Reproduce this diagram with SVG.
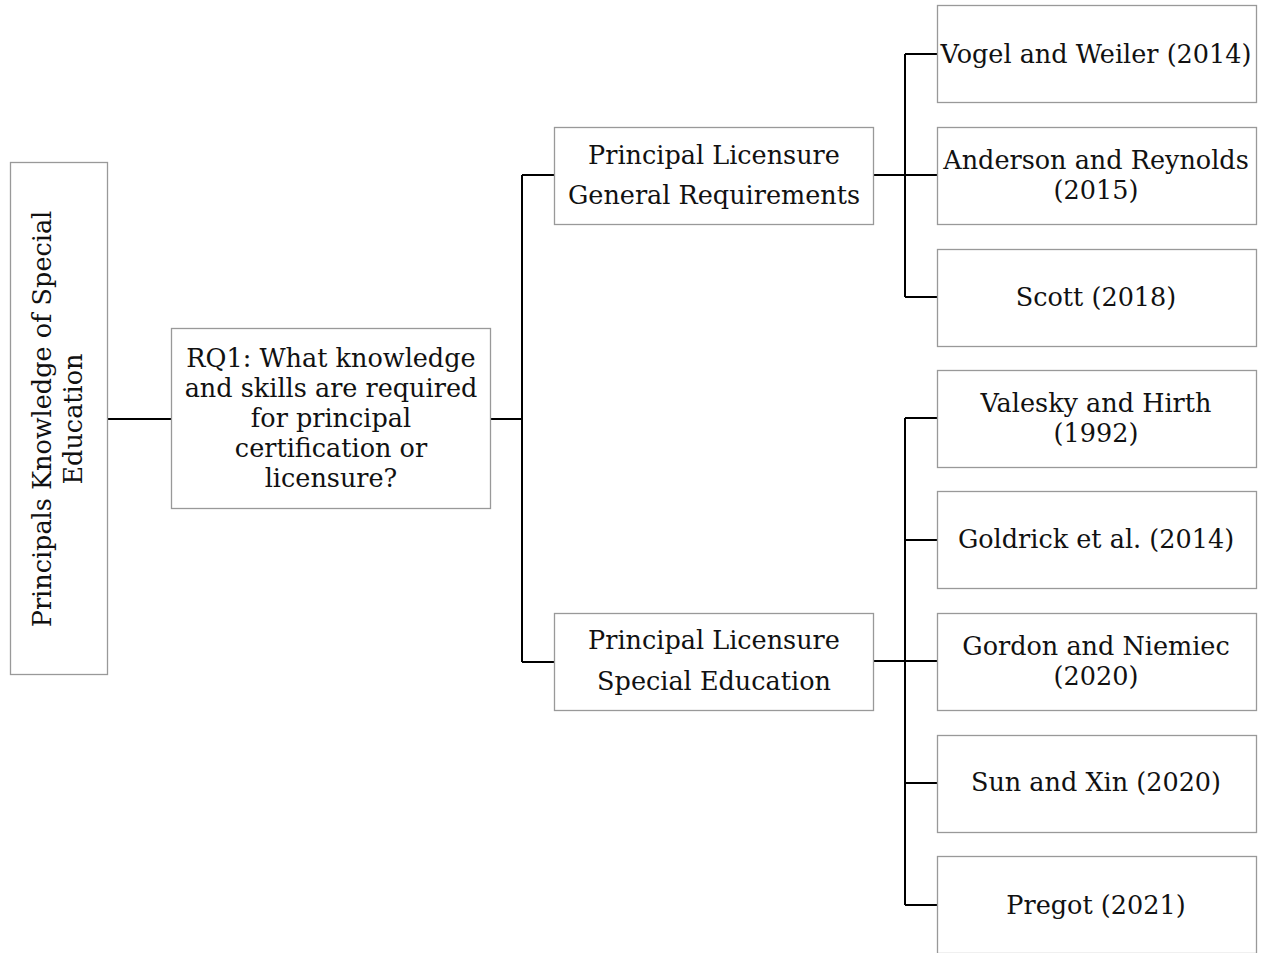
<svg xmlns="http://www.w3.org/2000/svg" width="1263" height="953" viewBox="0 0 1263 953">
<style>
.box{fill:#fff;stroke:#999;stroke-width:1.3}
.t{font-family:"DejaVu Serif","Liberation Serif",serif;font-size:25.5px;fill:#111;text-anchor:middle}
.c{fill:none;stroke:#000;stroke-width:2}
</style>
<rect width="1263" height="953" fill="#fff"/>
<g id="connectors">
<path class="c" d="M107 419H171"/>
<path class="c" d="M490 419H522M522 175V662M522 175H554M522 662H554"/>
<path class="c" d="M873 175H937M905 54V297M905 54H937M905 297H937"/>
<path class="c" d="M873 661H937M905 418V905M905 418H937M905 540H937M905 783H937M905 905H937"/>
</g>
<g id="root">
<rect class="box" x="10.5" y="162.5" width="97" height="512"/>
<text class="t" transform="translate(51,419) rotate(-90)"><tspan x="0" y="0">Principals Knowledge of Special</tspan><tspan x="0" y="31">Education</tspan></text>
</g>
<g id="rq1">
<rect class="box" x="171.5" y="328.5" width="319" height="180"/>
<text class="t"><tspan x="331" y="367">RQ1: What knowledge</tspan><tspan x="331" y="397">and skills are required</tspan><tspan x="331" y="427">for principal</tspan><tspan x="331" y="457">certification or</tspan><tspan x="331" y="487">licensure?</tspan></text>
</g>
<g id="general">
<rect class="box" x="554.5" y="127.5" width="319" height="97"/>
<text class="t"><tspan x="714" y="164">Principal Licensure</tspan><tspan x="714" y="204">General Requirements</tspan></text>
</g>
<g id="special">
<rect class="box" x="554.5" y="613.5" width="319" height="97"/>
<text class="t"><tspan x="714" y="649">Principal Licensure</tspan><tspan x="714" y="690">Special Education</tspan></text>
</g>
<g id="vogel">
<rect class="box" x="937.5" y="5.5" width="319" height="97"/>
<text class="t" x="1096" y="63">Vogel and Weiler (2014)</text>
</g>
<g id="anderson">
<rect class="box" x="937.5" y="127.5" width="319" height="97"/>
<text class="t"><tspan x="1096" y="169">Anderson and Reynolds</tspan><tspan x="1096" y="199">(2015)</tspan></text>
</g>
<g id="scott">
<rect class="box" x="937.5" y="249.5" width="319" height="97"/>
<text class="t" x="1096" y="306">Scott (2018)</text>
</g>
<g id="valesky">
<rect class="box" x="937.5" y="370.5" width="319" height="97"/>
<text class="t"><tspan x="1096" y="412">Valesky and Hirth</tspan><tspan x="1096" y="442">(1992)</tspan></text>
</g>
<g id="goldrick">
<rect class="box" x="937.5" y="491.5" width="319" height="97"/>
<text class="t" x="1096" y="548">Goldrick et al. (2014)</text>
</g>
<g id="gordon">
<rect class="box" x="937.5" y="613.5" width="319" height="97"/>
<text class="t"><tspan x="1096" y="655">Gordon and Niemiec</tspan><tspan x="1096" y="685">(2020)</tspan></text>
</g>
<g id="sun">
<rect class="box" x="937.5" y="735.5" width="319" height="97"/>
<text class="t" x="1096" y="791">Sun and Xin (2020)</text>
</g>
<g id="pregot">
<rect class="box" x="937.5" y="856.5" width="319" height="97"/>
<text class="t" x="1096" y="914">Pregot (2021)</text>
</g>
</svg>
